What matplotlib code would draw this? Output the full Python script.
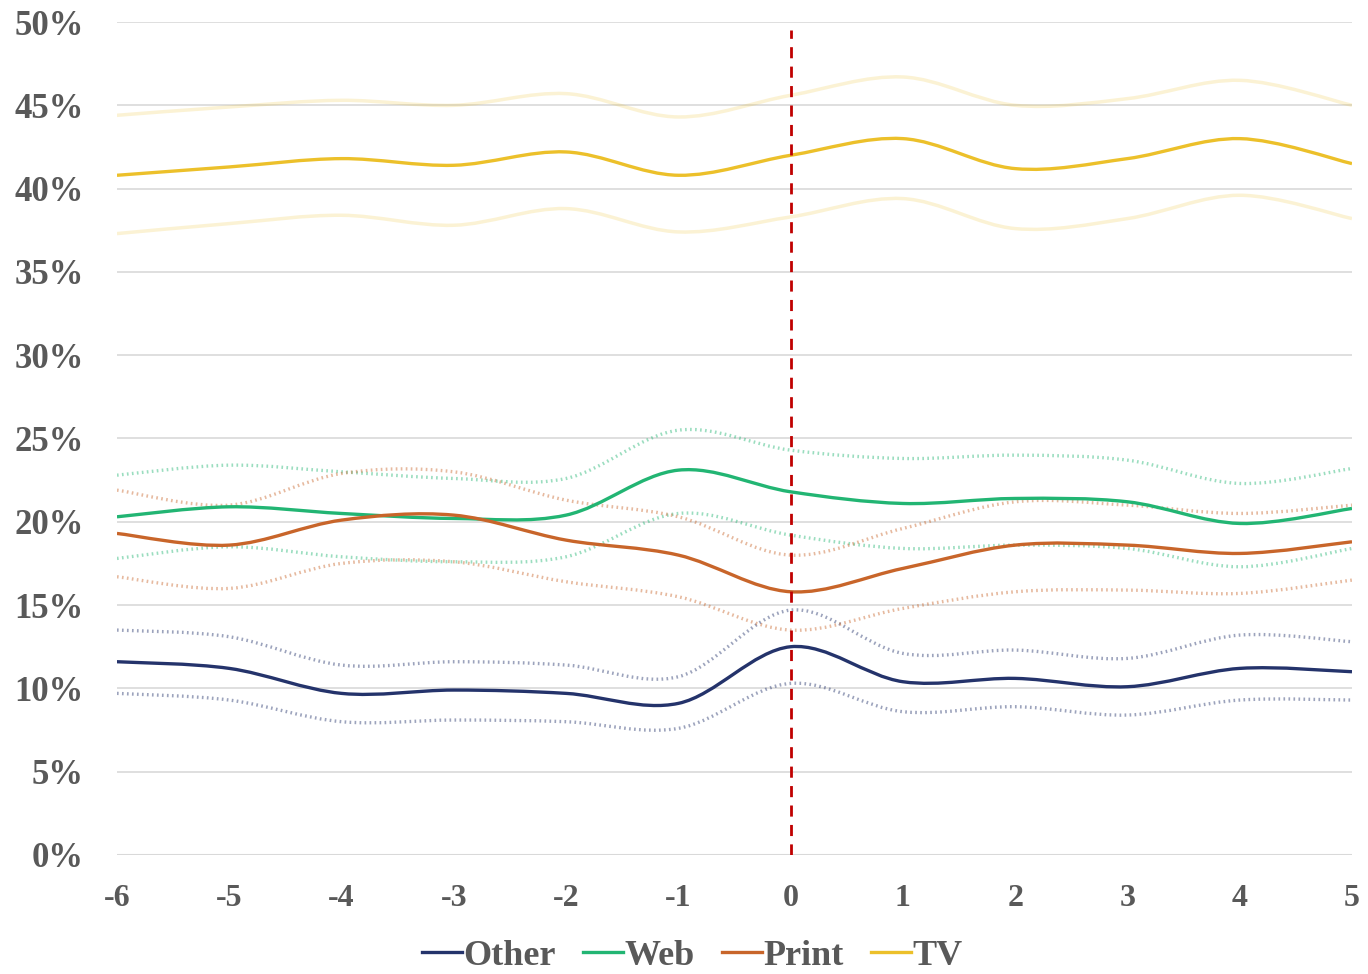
import numpy as np
import matplotlib
matplotlib.use('Agg')
import matplotlib.pyplot as plt
from matplotlib.path import Path
from matplotlib.patches import PathPatch
from matplotlib.lines import Line2D

plt.rcParams['font.family'] = ['Liberation Serif', 'DejaVu Serif']
plt.rcParams['font.weight'] = 'bold'
plt.rcParams['axes.unicode_minus'] = False

years = [-6, -5, -4, -3, -2, -1, 0, 1, 2, 3, 4, 5]

# point estimates (%)
other = [11.6, 11.2, 9.7, 9.9, 9.7, 9.1, 12.5, 10.4, 10.6, 10.1, 11.2, 11.0]
web = [20.3, 20.9, 20.5, 20.2, 20.4, 23.1, 21.8, 21.1, 21.4, 21.2, 19.9, 20.8]
print_ = [19.3, 18.6, 20.1, 20.4, 18.9, 18.0, 15.8, 17.2, 18.6, 18.6, 18.1, 18.8]
tv = [40.8, 41.3, 41.8, 41.4, 42.2, 40.8, 42.0, 43.0, 41.2, 41.8, 43.0, 41.5]

# confidence bands (%)
other_hi = [13.5, 13.1, 11.4, 11.6, 11.4, 10.7, 14.7, 12.1, 12.3, 11.8, 13.2, 12.8]
other_lo = [9.7, 9.3, 8.0, 8.1, 8.0, 7.6, 10.3, 8.6, 8.9, 8.4, 9.3, 9.3]
web_hi = [22.8, 23.4, 23.0, 22.6, 22.6, 25.5, 24.3, 23.8, 24.0, 23.7, 22.3, 23.2]
web_lo = [17.8, 18.5, 17.9, 17.6, 17.9, 20.5, 19.2, 18.4, 18.6, 18.4, 17.3, 18.4]
print_hi = [21.9, 21.0, 22.9, 23.0, 21.3, 20.3, 18.0, 19.6, 21.2, 21.0, 20.5, 21.0]
print_lo = [16.7, 16.0, 17.5, 17.6, 16.4, 15.5, 13.5, 14.8, 15.8, 15.9, 15.7, 16.5]
tv_hi = [44.4, 44.9, 45.3, 45.0, 45.7, 44.3, 45.6, 46.7, 45.0, 45.4, 46.5, 45.0]
tv_lo = [37.3, 37.9, 38.4, 37.8, 38.8, 37.4, 38.3, 39.4, 37.6, 38.2, 39.6, 38.2]

colors = {'Other': '#24336b', 'Web': '#22b573', 'Print': '#c8652a', 'TV': '#ecc02a'}


def smooth_path(x, y):
    # Excel-style smoothed line: Catmull-Rom as cubic Bezier segments
    pts = np.column_stack([x, y]).astype(float)
    verts = [pts[0]]
    codes = [Path.MOVETO]
    n = len(pts)
    for i in range(n - 1):
        p0 = pts[i - 1] if i > 0 else pts[i]
        p1 = pts[i]
        p2 = pts[i + 1]
        p3 = pts[i + 2] if i + 2 < n else pts[i + 1]
        c1 = p1 + (p2 - p0) / 6.0
        c2 = p2 - (p3 - p1) / 6.0
        verts += [c1, c2, p2]
        codes += [Path.CURVE4] * 3
    return Path(verts, codes)


def draw(ax, y, color, **kw):
    patch = PathPatch(smooth_path(years, y), facecolor='none', edgecolor=color, **kw)
    ax.add_patch(patch)


fig = plt.figure(figsize=(13.68, 9.74), dpi=100)
ax = fig.add_axes([0.0855, 0.1222, 0.9028, 0.8552])

for v in range(5, 55, 5):
    ax.axhline(v, color='#d9d9d9', lw=1.2, zorder=0)
ax.axhline(0, color='#d9d9d9', lw=1.5, zorder=0)

# bands
for lo, hi, name in [(other_lo, other_hi, 'Other'), (web_lo, web_hi, 'Web'),
                     (print_lo, print_hi, 'Print')]:
    for b in (lo, hi):
        draw(ax, b, colors[name], lw=2.4, alpha=0.45, linestyle=(0, (0.5, 1.0)), zorder=2)
for b in (tv_lo, tv_hi):
    draw(ax, b, colors['TV'], lw=2.5, alpha=0.2, zorder=2)

for y, name in [(other, 'Other'), (web, 'Web'), (print_, 'Print'), (tv, 'TV')]:
    draw(ax, y, colors[name], lw=2.4, zorder=3)

ax.axvline(0, ymin=0, ymax=0.99, color='#c00000', lw=2, linestyle=(0, (4, 3)), zorder=4)

ax.set_xlim(-6, 5)
ax.set_ylim(0, 50)
ax.set_xticks(years)
ax.set_yticks(range(0, 55, 5))
ax.set_yticklabels([f'{v}%' for v in range(0, 55, 5)])
for s in ax.spines.values():
    s.set_visible(False)
ax.tick_params(length=0, labelcolor='#595959')
ax.tick_params(axis='y', pad=24, labelsize=25)
ax.tick_params(axis='x', pad=21, labelsize=23)
for lbl in ax.get_xticklabels() + ax.get_yticklabels():
    lbl.set_fontweight('bold')

handles = [Line2D([], [], color=colors[n], lw=2.4) for n in ['Other', 'Web', 'Print', 'TV']]
leg = fig.legend(handles, ['Other', 'Web', 'Print', 'TV'], loc='center',
                 bbox_to_anchor=(0.506, 0.018), ncol=4, frameon=False,
                 handlelength=1.1, handletextpad=0.05, columnspacing=0.75,
                 prop={'size': 26, 'weight': 'bold'})
for t in leg.get_texts():
    t.set_color('#595959')

fig.savefig('out.png', dpi=100)
